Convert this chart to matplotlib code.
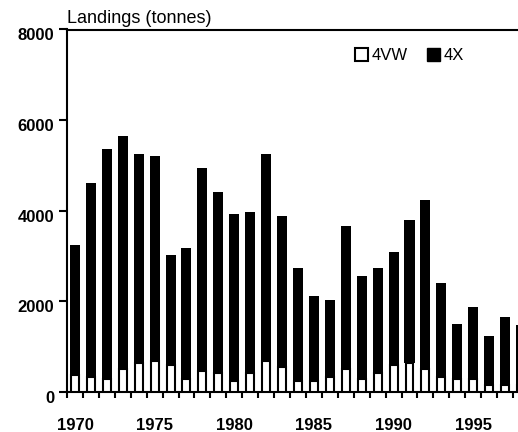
import matplotlib
matplotlib.use("Agg")
import matplotlib.pyplot as plt
import matplotlib.transforms as mtrans
from matplotlib.patches import Patch
import numpy as np

years = list(range(1970, 1999))
total = [3230, 4600, 5350, 5655, 5260, 5215, 3010, 3180, 4950, 4420,
         3935, 3970, 5255, 3890, 2740, 2120, 2035, 3670, 2565, 2740,
         3090, 3800, 4235, 2390, 1505, 1860, 1240, 1640, 1465]
vw = [370, 325, 280, 500, 630, 675, 590, 280, 455, 410,
      235, 410, 675, 545, 235, 235, 325, 500, 280, 410,
      590, 630, 500, 325, 280, 280, 150, 150, 150]
x4 = [t - v for t, v in zip(total, vw)]
yticks = [0, 2000, 4000, 6000, 8000]
xlabels = [1970, 1975, 1980, 1985, 1990, 1995]

plt.rcParams['font.family'] = ['Liberation Sans', 'DejaVu Sans']

fig = plt.figure(figsize=(5.18, 4.32), dpi=100)
W, H = 518, 432
left, bottom, top = 67, 391.7, 29.5
px_per_year = 15.93
x0, x1 = 1969.5, 1998.5
ax = fig.add_axes([left / W, 1 - bottom / H, (x1 - x0) * px_per_year / W, (bottom - top) / H])

ax.bar(years, x4, bottom=vw, width=0.63, color='black', edgecolor='none', label='4X', zorder=2)
ax.bar(years, vw, width=0.5, color='white', edgecolor='black', linewidth=1.5, label='4VW', zorder=3)

ax.set_xlim(x0, x1)
ax.set_ylim(0, 8000)
ax.set_yticks(yticks)
ax.set_yticklabels([str(v) for v in yticks], fontweight='bold', fontsize=12)
ax.set_xticks(xlabels)
ax.set_xticklabels([str(v) for v in xlabels], fontweight='bold', fontsize=12)
ax.set_xticks(np.arange(1969.5, 1999, 1.0), minor=True)
ax.tick_params(axis='x', which='major', length=0, pad=19)
ax.tick_params(axis='x', which='minor', length=4, width=1.5, direction='out')
ax.tick_params(axis='y', length=6, width=1.5, direction='out', pad=3)

offset = mtrans.ScaledTranslation(0, -0.05, fig.dpi_scale_trans)
for lab in ax.get_yticklabels():
    lab.set_transform(lab.get_transform() + offset)

for s in ['left', 'bottom', 'top', 'right']:
    ax.spines[s].set_linewidth(1.5)

ax.text(0.0, 1.006, 'Landings (tonnes)', transform=ax.transAxes, fontsize=13,
        ha='left', va='bottom')

handles = [Patch(facecolor='white', edgecolor='black', linewidth=1.5, label='4VW'),
           Patch(facecolor='black', edgecolor='black', label='4X')]
fig.legend(handles=handles, loc='upper left', bbox_to_anchor=(355 / W, 1 - 48 / H),
           ncol=2, frameon=False, fontsize=12, handlelength=0.78, handleheight=0.78,
           handletextpad=0.2, columnspacing=1.2, borderaxespad=0, borderpad=0)

fig.savefig('out.png', dpi=100)
